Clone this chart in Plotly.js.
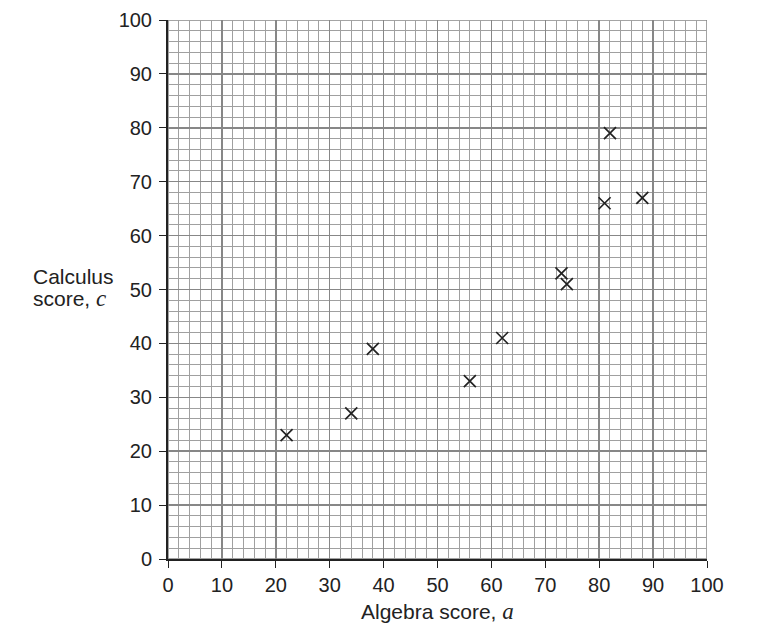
<!DOCTYPE html>
<html>
<head>
<meta charset="utf-8">
<script src="https://cdn.plot.ly/plotly-3.0.1.min.js"></script>
<style>html,body{margin:0;padding:0;background:#fff;}#chart{width:780px;height:628px;}</style>
</head>
<body>
<div id="chart"></div>
<script>
const algebra = [22, 34, 38, 56, 62, 73, 74, 81, 82, 88];
const calculus = [23, 27, 39, 33, 41, 53, 51, 66, 79, 67];
const tickVals = [0, 10, 20, 30, 40, 50, 60, 70, 80, 90, 100];
const gridStep = 2;

const axisCommon = {
  range: [tickVals[0], tickVals[tickVals.length - 1]],
  tickmode: 'linear',
  tick0: tickVals[0],
  dtick: tickVals[1] - tickVals[0],
  ticks: 'outside',
  ticklen: 7,
  tickwidth: 1,
  tickcolor: '#222',
  showline: true,
  linecolor: '#222',
  linewidth: 2,
  mirror: false,
  showgrid: true,
  gridcolor: '#878787',
  gridwidth: 1.5,
  zeroline: false,
  tickfont: {family: 'Liberation Sans, Arial, sans-serif', size: 20, color: '#222'},
  minor: {tickmode: 'linear', dtick: gridStep, tick0: 0, showgrid: true, gridcolor: '#a0a0a0', gridwidth: 1, ticks: ''},
  fixedrange: true
};

const data = [{
  x: algebra,
  y: calculus,
  type: 'scatter',
  mode: 'markers',
  marker: {symbol: 'x-thin-open', size: 12, line: {width: 1.7, color: '#222'}, color: '#222'},
  cliponaxis: false,
  hoverinfo: 'skip'
}];

const font = {family: 'Liberation Sans, Arial, sans-serif', size: 21, color: '#222'};
const layout = {
  width: 780, height: 628,
  margin: {l: 168, r: 73, t: 20, b: 69},
  paper_bgcolor: '#fff',
  plot_bgcolor: '#fff',
  showlegend: false,
  xaxis: Object.assign({}, axisCommon, {ticklabelstandoff: 0}),
  yaxis: Object.assign({}, axisCommon, {ticklabelstandoff: 3}),
  shapes: [
    {type: 'rect', xref: 'x', yref: 'y', x0: 0, x1: 100, y0: 0, y1: 100,
     line: {color: '#878787', width: 1.5}, layer: 'below'}
  ],
  annotations: [
    {xref: 'paper', yref: 'paper', x: 0.5, y: -0.097, xanchor: 'center', yanchor: 'middle',
     showarrow: false,
     text: "Algebra score, <span style=\"font-family:'Liberation Serif',serif;font-size:23px\"><i>a</i></span>",
     font: font},
    {xref: 'paper', yref: 'paper', x: -0.254, y: 0.524, xanchor: 'left', yanchor: 'middle',
     showarrow: false, align: 'left', text: "Calculus", font: font},
    {xref: 'paper', yref: 'paper', x: -0.254, y: 0.484, xanchor: 'left', yanchor: 'middle',
     showarrow: false, align: 'left',
     text: "score, <span style=\"font-family:'Liberation Serif',serif;font-size:23px\"><i>c</i></span>",
     font: font}
  ]
};

Plotly.newPlot('chart', data, layout, {displayModeBar: false, staticPlot: true});
</script>
</body>
</html>
